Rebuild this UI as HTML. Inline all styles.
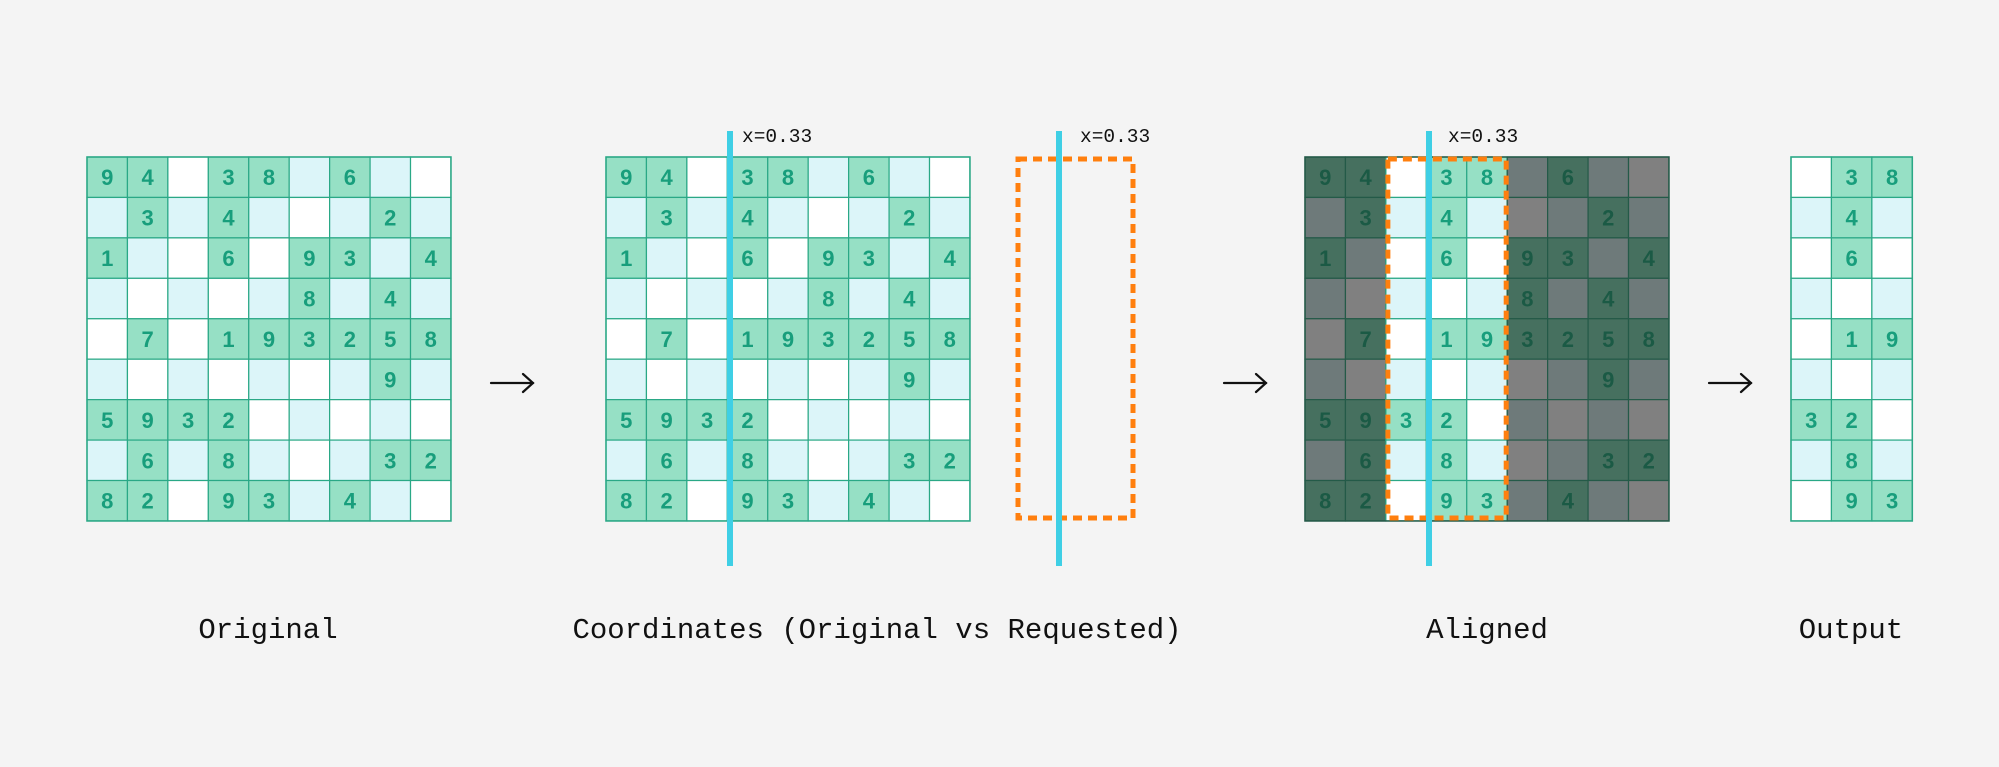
<!DOCTYPE html>
<html><head><meta charset="utf-8"><style>
html,body{margin:0;padding:0;background:#f4f4f4;}
svg{display:block;}
.d{font-family:"Liberation Sans",sans-serif;font-weight:bold;font-size:22px;text-anchor:middle;}
.t{font-family:"Liberation Mono",monospace;font-size:29px;fill:#111;text-anchor:middle;}
.l{font-family:"Liberation Mono",monospace;font-size:19.5px;fill:#111;}
</style></head><body>
<svg id="s" width="1999" height="767" viewBox="0 0 1999 767" xmlns="http://www.w3.org/2000/svg">
<rect width="1999" height="767" fill="#f4f4f4"/>
</svg>
<script>
const puzzle = [
 "94w38b6bw",
 "b3b4bwb2b",
 "1bw6w93b4",
 "bwbwb8b4b",
 "w7w193258",
 "bwbwbwb9b",
 "5932wbwbw",
 "b6b8bwb32",
 "82w93b4bw"
];
const cropCols = [2,3,4];
const xLabel = "x=0.33";
const titles = ["Original","Coordinates (Original vs Requested)","Aligned","Output"];

const NS="http://www.w3.org/2000/svg";
const svg=document.getElementById('s');
const C=40.44, TOP=157;
function mk(tag,attrs,parent){const e=document.createElementNS(NS,tag);for(const k in attrs)e.setAttribute(k,attrs[k]);(parent||svg).appendChild(e);return e;}

function drawGrid(x0,name,cols,dimCols){
  const g=mk('g',{});
  
  
  cols.forEach((c,ci)=>{
    for(let r=0;r<9;r++){
      const ch=puzzle[r][c];
      const dim=dimCols && !dimCols.includes(c);
      let fill;
      if(ch==='w') fill=dim?'#808080':'#ffffff';
      else if(ch==='b') fill=dim?'#6e7a7a':'#dcf5f9';
      else fill=dim?'#46705f':'#96e0c5';
      const rc=mk('rect',{x:x0+ci*C,y:TOP+r*C,width:C,height:C,fill:fill,stroke:dim?'#245a48':'#2aa886','stroke-width':1.2},g);
      
      
      if(ch!=='w'&&ch!=='b'){
        const t=mk('text',{x:x0+ci*C+C/2,y:TOP+r*C+C/2+8,class:'d',fill:dim?'#1b5a45':'#189e7c'},g);
        t.textContent=ch;
        
        
      }
    }
  });
  const b=mk('rect',{x:x0,y:TOP,width:cols.length*C,height:9*C,fill:'none',stroke:dimCols?'#245a48':'#2aa886','stroke-width':1.5},g);
  
  
}
const all=[0,1,2,3,4,5,6,7,8];
drawGrid(87,'original-grid',all,null);
drawGrid(606,'coordinates-grid',all,null);
drawGrid(1305,'aligned-grid',all,cropCols);
drawGrid(1791,'output-grid',cropCols,null);

function dashRect(x,y,w,h,name){
  const r=mk('rect',{x:x,y:y,width:w,height:h,fill:'none',stroke:'#ff7f0e','stroke-width':5,'stroke-dasharray':'9 6'});
  
  
}
function vline(x,name){
  const r=mk('rect',{x:x-3,y:131,width:6,height:435,fill:'#3fcfe5'});
  
  
}
function label(x,name){
  const t=mk('text',{x:x,y:142,class:'l'});
  t.textContent=xLabel;
  
  
}
vline(730,'original-x-line'); label(742,'original-x-label');
dashRect(1018,159,115,359,'requested-crop-box');
vline(1059,'requested-x-line'); label(1080,'requested-x-label');
dashRect(1305+cropCols[0]*C+2,159,cropCols.length*C-3,359,'aligned-crop-box');
vline(1429,'aligned-x-line'); label(1448,'aligned-x-label');

[[491,'arrow-1'],[1224,'arrow-2'],[1709,'arrow-3']].forEach(([x,n])=>{
  const g=mk('g',{stroke:'#111','stroke-width':2.2,fill:'none','stroke-linecap':'round'});
  
  
  mk('line',{x1:x,y1:383,x2:x+42,y2:383},g);
  mk('polyline',{points:`${x+32},${374} ${x+42},${383} ${x+32},${392}`},g);
});

[268,877,1487,1851].forEach((x,i)=>{
  const t=mk('text',{x:x,y:638,class:'t'});
  t.textContent=titles[i];
  
  
});
</script>
</body></html>
